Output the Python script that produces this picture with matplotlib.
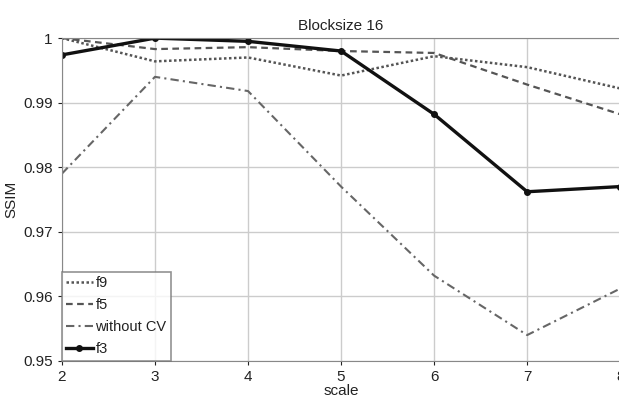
import matplotlib
matplotlib.use("Agg")
import matplotlib.pyplot as plt

plt.rcParams['font.family'] = ['Liberation Sans', 'DejaVu Sans']

scale = [2, 3, 4, 5, 6, 7, 8]
f9 = [1.0, 0.9964, 0.9970, 0.9942, 0.9972, 0.9955, 0.9922]
f5 = [1.0, 0.9983, 0.9986, 0.9980, 0.9977, 0.9928, 0.9882]
without_cv = [0.9790, 0.9940, 0.9918, 0.9770, 0.9632, 0.9540, 0.9612]
f3 = [0.9974, 1.0, 0.9995, 0.9980, 0.9882, 0.9762, 0.9770]

xticks = [2, 3, 4, 5, 6, 7, 8]
yticks = [0.95, 0.96, 0.97, 0.98, 0.99, 1.0]
yticklabels = ['0.95', '0.96', '0.97', '0.98', '0.99', '1']

fig = plt.figure(figsize=(6.19, 3.97), dpi=100)
ax = fig.add_axes([0.1, 0.091, 0.902, 0.813])

ax.plot(scale, f9, linestyle=(0, (1, 1)), color='#555555', lw=1.8, label='f9')
ax.plot(scale, f5, linestyle=(0, (3, 2)), color='#555555', lw=1.6, label='f5')
ax.plot(scale, without_cv, linestyle=(0, (4, 2, 1, 2)), color='#666666', lw=1.5, label='without CV')
ax.plot(scale, f3, linestyle='-', color='#111111', lw=2.4, marker='o', ms=4, label='f3')

ax.set_xlim(2, 8)
ax.set_ylim(0.95, 1.0)
ax.set_xticks(xticks)
ax.set_yticks(yticks)
ax.set_yticklabels(yticklabels)
ax.grid(True, color='#cccccc', lw=1)
for s in ax.spines.values():
    s.set_color('#888888')
ax.tick_params(labelsize=11, colors='#222222', length=3)

ax.set_title('Blocksize 16', fontsize=11, color='#222222', pad=6)
ax.set_xlabel('scale', fontsize=11, color='#222222', labelpad=0)
ax.set_ylabel('SSIM', fontsize=11, color='#222222')
ax.yaxis.set_label_coords(-0.078, 0.5)

leg = ax.legend(loc='lower left', fontsize=10.5, frameon=True, fancybox=False,
                edgecolor='#777777', borderaxespad=0.0, handlelength=1.8,
                handletextpad=0.2, labelspacing=0.55, borderpad=0.3)
leg.get_frame().set_linewidth(1.2)
for t in leg.get_texts():
    t.set_color('#222222')

fig.savefig('out.png', dpi=100)
